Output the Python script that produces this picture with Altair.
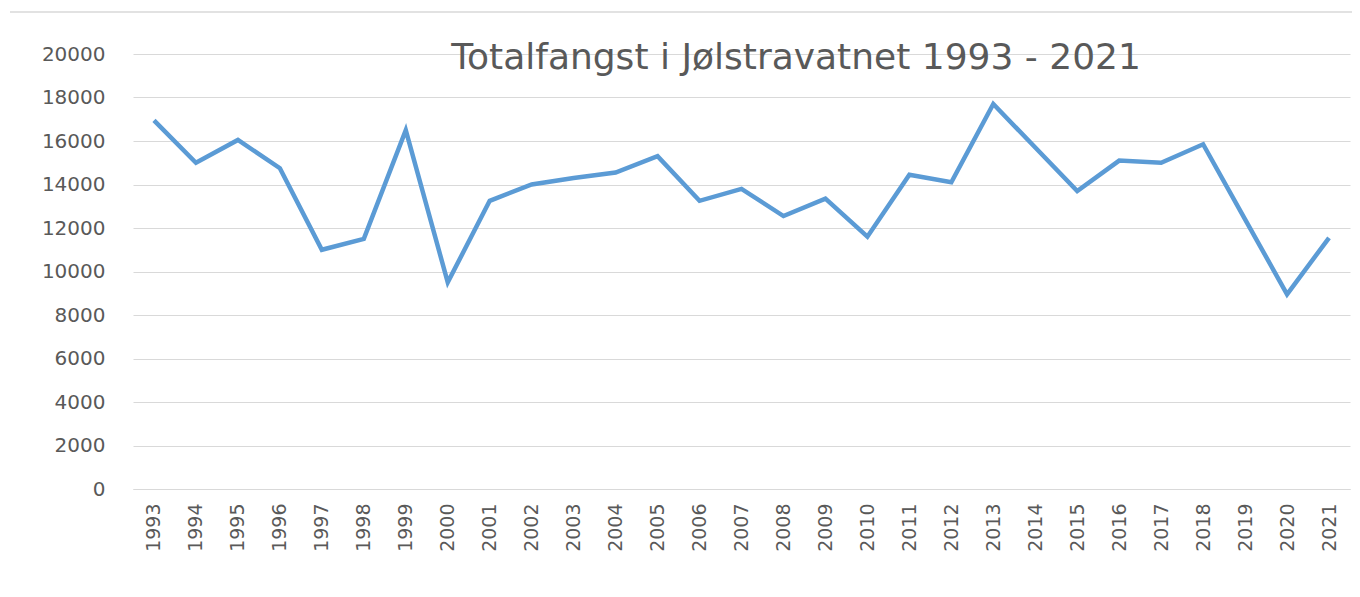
import altair as alt
import pandas as pd

years = [str(y) for y in range(1993, 2022)]
catch = [16950, 15000, 16050, 14750, 11000, 11500, 16500, 9500, 13250, 14000,
         14300, 14550, 15300, 13250, 13800, 12550, 13350, 11600, 14450, 14100,
         17700, 15700, 13700, 15100, 15000, 15850, 12400, 8950, 11550]
y_ticks = list(range(0, 20001, 2000))
title_text = "Totalfangst i Jølstravatnet 1993 - 2021"

df = pd.DataFrame({"year": years, "catch": catch})

FONT = "DejaVu Sans"
GREY = "#595959"

line = alt.Chart(df).mark_line(color="#5B9BD5", strokeWidth=4.5).encode(
    x=alt.X("year:N", sort=years, title=None,
            scale=alt.Scale(type="point", padding=0.5),
            axis=alt.Axis(labelAngle=270, labelFontSize=19, labelFont=FONT,
                          labelColor=GREY, ticks=False, domain=True,
                          domainColor="#d9d9d9", labelPadding=14, grid=False)),
    y=alt.Y("catch:Q", title=None,
            scale=alt.Scale(domain=[0, 20000], nice=False),
            axis=alt.Axis(values=y_ticks, format="d", labelFontSize=20,
                          labelFont=FONT, labelColor=GREY, ticks=False,
                          domain=False, gridColor="#d9d9d9", gridWidth=1.2,
                          labelPadding=28)),
)

title = alt.Chart(pd.DataFrame({"t": [title_text]})).mark_text(
    font=FONT, fontSize=36, color=GREY, align="center", baseline="alphabetic"
).encode(text="t:N", x=alt.value(663), y=alt.value(15))

border = alt.Chart(pd.DataFrame({"a": [0]})).mark_rule(
    color="#d9d9d9", strokeWidth=1.5
).encode(x=alt.value(-123), x2=alt.value(1219), y=alt.value(-42))

chart = alt.layer(border, line, title).properties(
    width=1217, height=435,
    autosize=alt.AutoSizeParams(type="none"),
    padding={"left": 125, "top": 46, "right": 2, "bottom": 100},
).configure(background="white").configure_view(stroke=None)

chart.save("out.html", embed_options={"renderer": "svg", "actions": False})
